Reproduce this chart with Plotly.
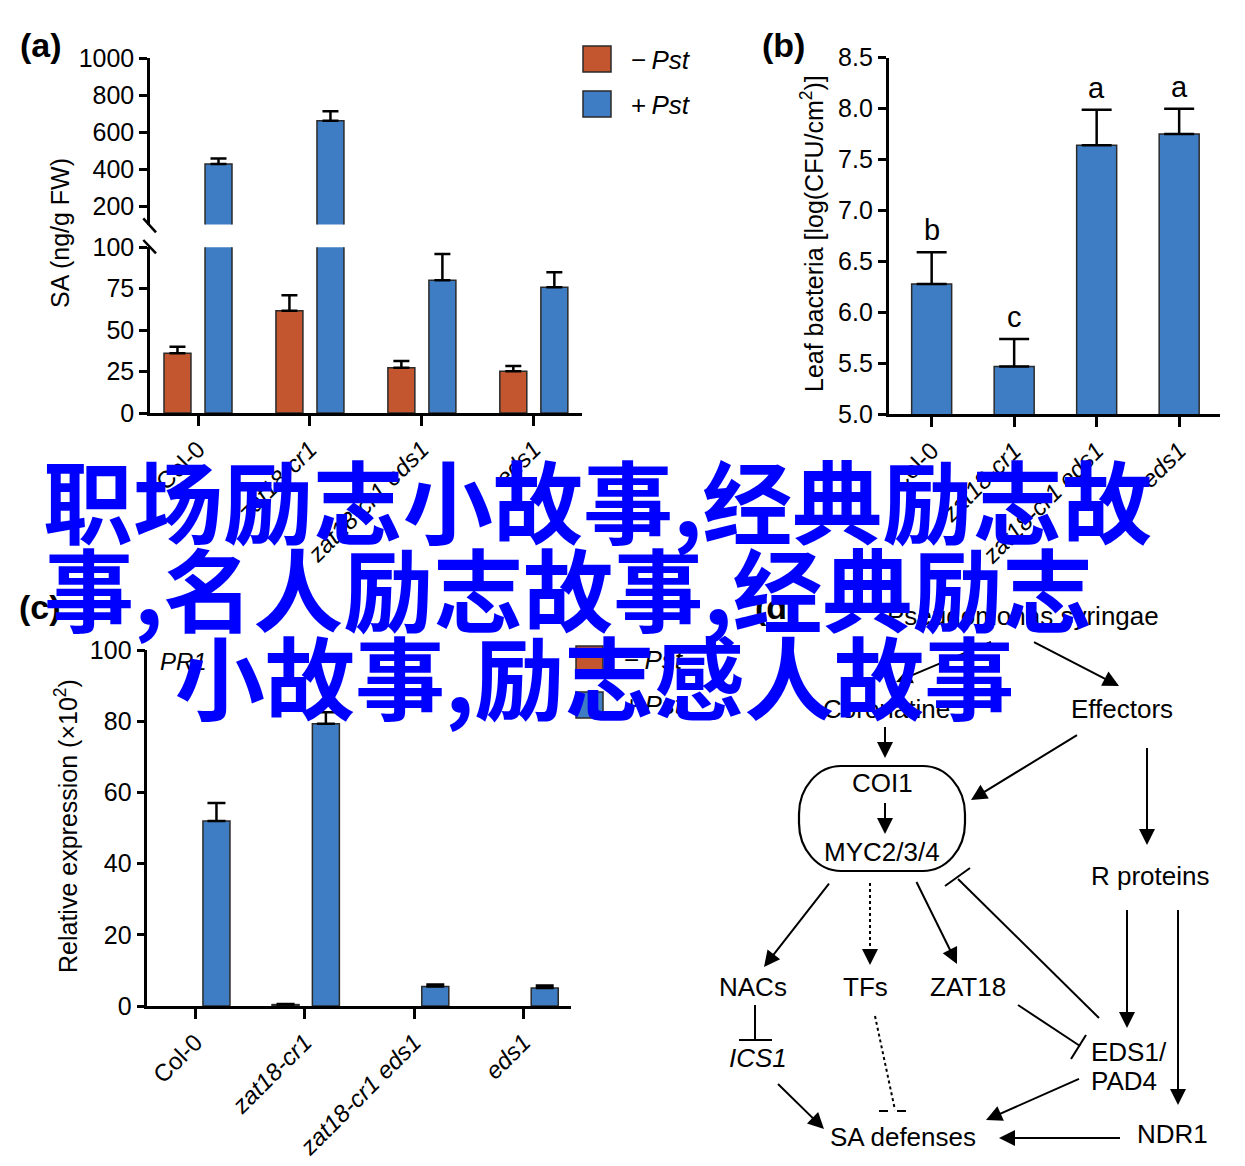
import plotly.graph_objects as go

W, H = 1245, 1166
PAGE_OFFSET = 8  # default page margin of the HTML body

# ---------------- data ----------------
genotypes = ["Col-0", "zat18-cr1", "zat18-cr1 eds1", "eds1"]
genotype_labels = ["Col-0", "<i>zat18-cr1</i>", "<i>zat18-cr1 eds1</i>", "<i>eds1</i>"]

# (a) SA content (ng/g FW)
sa_mock = [36.0, 61.7, 27.3, 25.2]
sa_mock_err = [4.0, 9.3, 4.1, 3.2]
sa_pst = [428, 662, 80.1, 75.9]
sa_pst_err = [30, 51, 15.9, 9.0]
sa_break = 100
sa_lower_ticks = [0, 25, 50, 75, 100]
sa_upper_ticks = [200, 400, 600, 800, 1000]

# (b) leaf bacteria log(CFU/cm2)
bact = [6.28, 5.47, 7.64, 7.75]
bact_err = [0.31, 0.27, 0.35, 0.25]
bact_letters = ["b", "c", "a", "a"]
bact_ticks = [5.0, 5.5, 6.0, 6.5, 7.0, 7.5, 8.0, 8.5]

# (c) PR1 relative expression (x10^2)
pr1_mock = [None, 0.4, None, None]
pr1_mock_err = [None, 0.15, None, None]
pr1_pst = [52.0, 79.3, 5.45, 5.05]
pr1_pst_err = [5.0, 3.2, 0.6, 0.7]
pr1_ticks = [0, 20, 40, 60, 80, 100]

overlay_lines = ["职场励志小故事,经典励志故", "事,名人励志故事,经典励志", "小故事,励志感人故事"]

# ---------------- styling ----------------
ORANGE = "#C4562F"
BLUE = "#3E7DC3"
EDGE = "#2a2a2a"
FONT = "Liberation Sans, Arial, Helvetica, sans-serif"


def X(px):
    return (px - PAGE_OFFSET) / W


def Y(py):
    return 1 - (py - PAGE_OFFSET) / H


def lower_part(vals, errs):
    return [e if v <= sa_break else None for v, e in zip(vals, errs)]


def upper_part(vals):
    return [v if v > sa_break else None for v in vals]


fig = go.Figure()


def bar(x, y, err, color, offset, width, xa, ya, cap):
    return go.Bar(
        x=x, y=y, xaxis=xa, yaxis=ya, offset=offset, width=width,
        marker=dict(color=color, line=dict(color=EDGE, width=1.5)),
        error_y=dict(type="data", array=err, arrayminus=[0] * len(err),
                     color="black", thickness=2.5, width=cap),
        showlegend=False, hoverinfo="skip",
    )


# (a) lower segment of the broken axis
fig.add_trace(bar(genotypes, sa_mock, lower_part(sa_mock, sa_mock_err), ORANGE, -0.304, 0.241, "x", "y", 8))
fig.add_trace(bar(genotypes, sa_pst, lower_part(sa_pst, sa_pst_err), BLUE, 0.0625, 0.241, "x", "y", 8))
# (a) upper segment
fig.add_trace(bar(genotypes, upper_part(sa_pst), sa_pst_err, BLUE, 0.0625, 0.241, "x", "y2", 8))

# (b)
fig.add_trace(bar(genotypes, bact, bact_err, BLUE, -0.2425, 0.485, "x2", "y3", 15))

# (c)
fig.add_trace(bar(genotypes, pr1_mock, pr1_mock_err, ORANGE, -0.30, 0.247, "x3", "y4", 9))
fig.add_trace(bar(genotypes, pr1_pst, pr1_pst_err, BLUE, 0.0686, 0.247, "x3", "y4", 9))

axis_common = dict(showline=True, linecolor="black", linewidth=2.5, ticks="outside",
                   tickcolor="black", tickwidth=2.5, showgrid=False, zeroline=False,
                   automargin=False, tickfont=dict(family=FONT, size=25, color="black"))
xcommon = dict(axis_common, type="category", tickvals=genotypes, ticktext=genotype_labels,
               tickangle=-45, ticklen=10, tickfont=dict(family=FONT, size=24, color="black"))

fig.update_layout(
    width=W, height=H, margin=dict(l=0, r=0, t=0, b=0, pad=0, autoexpand=False),
    paper_bgcolor="white", plot_bgcolor="rgba(0,0,0,0)", barmode="overlay",
    xaxis=dict(xcommon, domain=[X(150), X(582)], anchor="y", range=[-0.429, 3.43]),
    yaxis=dict(axis_common, domain=[Y(413), Y(247.3)], anchor="x", range=[0, 100],
               tickvals=sa_lower_ticks, ticklen=8),
    yaxis2=dict(axis_common, domain=[Y(224.5), Y(58.3)], anchor="x", range=[100, 1000],
                tickvals=sa_upper_ticks, ticklen=8),
    xaxis2=dict(xcommon, domain=[X(888.6), X(1220)], anchor="y3", range=[-0.522, 3.495]),
    yaxis3=dict(axis_common, domain=[Y(414.3), Y(57.7)], anchor="x2", range=[5, 8.5],
                tickvals=bact_ticks, tickformat=".1f", ticklen=8),
    xaxis3=dict(xcommon, domain=[X(147.3), X(571.4)], anchor="y4", range=[-0.44, 3.436]),
    yaxis4=dict(axis_common, domain=[Y(1006), Y(650)], anchor="x3", range=[0, 100],
                tickvals=pr1_ticks, ticklen=8),
)

shapes = []
annotations = []


def line(x0, y0, x1, y1, width=2, dash="solid", color="black"):
    shapes.append(dict(type="line", xref="paper", yref="paper",
                       x0=X(x0), y0=Y(y0), x1=X(x1), y1=Y(y1),
                       line=dict(color=color, width=width, dash=dash)))


def rect(x0, y0, x1, y1, color):
    shapes.append(dict(type="rect", xref="paper", yref="paper",
                       x0=X(x0), y0=Y(y0), x1=X(x1), y1=Y(y1),
                       fillcolor=color, line=dict(color=EDGE, width=1.5)))


def text(px, py, s, size=26, anchor="center", angle=0, family=FONT, color="black", weight=None):
    f = dict(family=family, size=size, color=color)
    if weight:
        f["weight"] = weight
    annotations.append(dict(xref="paper", yref="paper", x=X(px), y=Y(py), text=s,
                            showarrow=False, xanchor=anchor, yanchor="middle",
                            textangle=angle, font=f))


def arrow(tx, ty, hx, hy):
    annotations.append(dict(xref="paper", yref="paper", x=X(hx), y=Y(hy),
                            ax=tx - hx, ay=ty - hy, axref="pixel", ayref="pixel",
                            text=" ", showarrow=True, arrowhead=2, arrowsize=1.6,
                            arrowwidth=2, arrowcolor="black", standoff=0,
                            font=dict(size=2)))


# broken-axis marks
line(143.3, 218.3, 156, 232.3, width=2.5)
line(143.3, 240, 156, 253.3, width=2.5)

# legends (a) and (c)
rect(583, 46, 611, 72, ORANGE)
rect(583, 91, 611, 117, BLUE)
text(629, 60, "\u2212\u2009<i>Pst</i>", size=26, anchor="left")
text(629, 105, "+\u2009<i>Pst</i>", size=26, anchor="left")
rect(576, 646, 603, 672, ORANGE)
rect(576, 692, 603, 718, BLUE)
text(622, 660, "\u2212\u2009<i>Pst</i>", size=26, anchor="left")
text(622, 705, "+\u2009<i>Pst</i>", size=26, anchor="left")

# panel labels
text(41, 45, "<b>(a)</b>", size=34)
text(783, 45, "<b>(b)</b>", size=34)
text(40, 607, "<b>(c)</b>", size=34)
text(776, 607, "<b>(d)</b>", size=34)

# axis titles
text(60, 233, "SA (ng/g FW)", size=25, angle=-90)
text(812, 233, "Leaf bacteria [log(CFU/cm<sup>2</sup>)]", size=25, angle=-90)
text(66, 826, "Relative expression (\u00d710<sup>2</sup>)", size=25, angle=-90)
text(183, 661, "<i>PR1</i>", size=24)

# significance letters in (b)
for g, v, e, letter in zip(genotypes, bact, bact_err, bact_letters):
    annotations.append(dict(xref="x2", yref="y3", x=g, y=v + e, text=letter,
                            showarrow=False, yanchor="bottom", yshift=4,
                            font=dict(family=FONT, size=29, color="black")))

# (d) pathway diagram
text(1023, 616, "Pseudomonas syringae", size=26)
text(886, 709, "Coronatine", size=26)
text(1122, 709, "Effectors", size=26)
text(882, 783, "COI1", size=26)
text(882, 852, "MYC2/3/4", size=26)
text(1150, 876, "R proteins", size=26)
text(753, 987, "NACs", size=26)
text(866, 987, "TFs", size=26)
text(968, 987, "ZAT18", size=26)
text(758, 1058, "<i>ICS1</i>", size=26)
text(1089, 1052, "EDS1/", size=26, anchor="left")
text(1089, 1081, "PAD4", size=26, anchor="left")
text(903, 1137, "SA defenses", size=26)
text(1172, 1134, "NDR1", size=26)

# rounded box
x0, x1, y0, y1, rx, ry = 799, 965, 766, 871, 42, 48
pts = [
    ("M", [(x0 + rx, y0)]), ("L", [(x1 - rx, y0)]),
    ("C", [(x1 - rx * 0.45, y0), (x1, y0 + ry * 0.45), (x1, y0 + ry)]),
    ("L", [(x1, y1 - ry)]),
    ("C", [(x1, y1 - ry * 0.45), (x1 - rx * 0.45, y1), (x1 - rx, y1)]),
    ("L", [(x0 + rx, y1)]),
    ("C", [(x0 + rx * 0.45, y1), (x0, y1 - ry * 0.45), (x0, y1 - ry)]),
    ("L", [(x0, y0 + ry)]),
    ("C", [(x0, y0 + ry * 0.45), (x0 + rx * 0.45, y0), (x0 + rx, y0)]),
]
path = " ".join(cmd + " " + " ".join(f"{X(a):.5f},{Y(b):.5f}" for a, b in p) for cmd, p in pts) + " Z"
shapes.append(dict(type="path", xref="paper", yref="paper", path=path,
                   line=dict(color="black", width=2.2)))

arrow(993, 641, 896, 682)
arrow(1032, 641, 1119, 686)
arrow(885, 724, 885, 758)
arrow(885, 800, 885, 834)
arrow(1079, 734, 971, 800)
arrow(1147, 745, 1147, 845)
arrow(831, 881, 764, 967)
line(870, 883, 870, 950, dash="dot")
arrow(870, 948, 870, 965)
arrow(915, 879, 957, 964)
arrow(1127, 907, 1127, 1028)
arrow(1178, 907, 1178, 1105)
arrow(776, 1082, 824, 1129)
arrow(1081, 1078, 986, 1120)
arrow(1122, 1138, 999, 1138)

# inhibition edges
line(755, 1005, 755, 1040)
line(739, 1040, 772, 1040)
line(1018, 1005, 1080, 1046)
line(1086, 1035, 1071, 1059)
line(1099, 1018, 958, 879)
line(945, 886, 970, 868)
line(875, 1016, 895, 1110, dash="dot")
line(879, 1111, 913, 1111, dash="dash")

# overlay text
overlay_pos = [(41, 498), (42, 586), (173, 674)]
for s, (px, py) in zip(overlay_lines, overlay_pos):
    text(px, py, s, size=90, anchor="left", family="Noto Sans CJK SC", color="#0000FF", weight=700)

fig.update_layout(shapes=shapes, annotations=annotations)
fig.write_html("out.html")
